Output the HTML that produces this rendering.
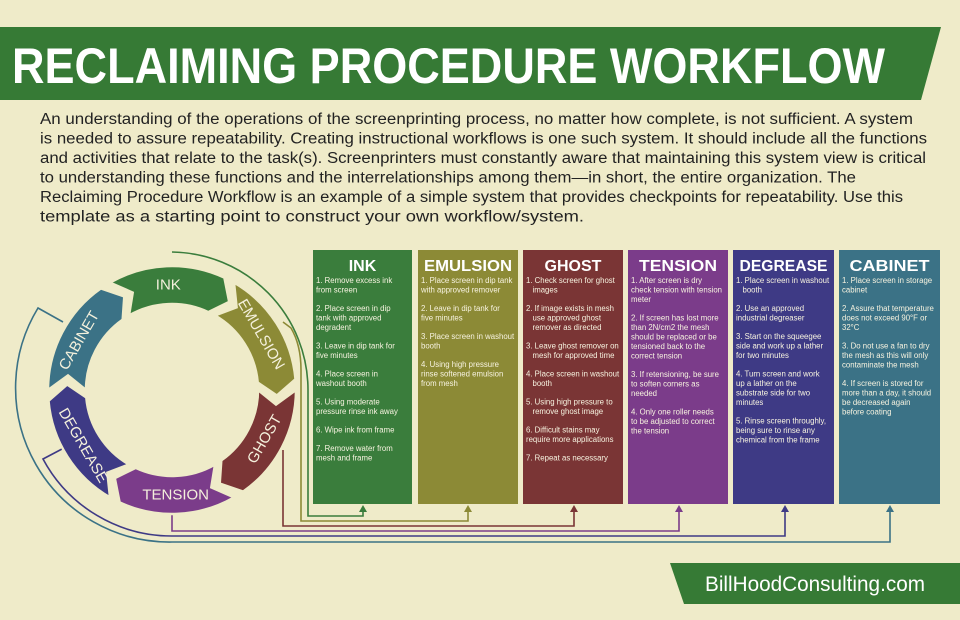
<!DOCTYPE html>
<html><head><meta charset="utf-8">
<style>
html,body{margin:0;padding:0;background:#efebc9;}
svg{display:block;font-family:"Liberation Sans",sans-serif;}
</style></head><body>
<svg id="s" width="960" height="620" viewBox="0 0 960 620" xmlns="http://www.w3.org/2000/svg">
<rect width="960" height="620" fill="#efebc9"/>
<polygon points="0,27 941,27 921,100 0,100" fill="#367a35"/>
<text x="12" y="83" font-size="50" font-weight="bold" fill="#fff" textLength="873" lengthAdjust="spacingAndGlyphs">RECLAIMING PROCEDURE WORKFLOW</text>
<g font-size="15.5" fill="#222">
<text x="40" y="124" textLength="873" lengthAdjust="spacingAndGlyphs">An understanding of the operations of the screenprinting process, no matter how complete, is not sufficient. A system</text>
<text x="40" y="143.5" textLength="887" lengthAdjust="spacingAndGlyphs">is needed to assure repeatability. Creating instructional workflows is one such system. It should include all the functions</text>
<text x="40" y="163" textLength="886" lengthAdjust="spacingAndGlyphs">and activities that relate to the task(s). Screenprinters must constantly aware that maintaining this system view is critical</text>
<text x="40" y="182.5" textLength="816" lengthAdjust="spacingAndGlyphs">to understanding these functions and the interrelationships among them—in short, the entire organization. The</text>
<text x="40" y="202" textLength="863" lengthAdjust="spacingAndGlyphs">Reclaiming Procedure Workflow is an example of a simple system that provides checkpoints for repeatability. Use this</text>
<text x="40" y="221.5" textLength="544" lengthAdjust="spacingAndGlyphs">template as a starting point to construct your own workflow/system.</text>
</g>
<g fill="none" stroke-width="1.6">
<path d="M172,252 A138,138 0 0 1 308,390 L308,516 L363,516 L363,509" stroke="#3a7d3c"/>
<path d="M283,322 L291,328 Q301,345 301,370 L301,521 L468,521 L468,509" stroke="#8c8a36"/>
<path d="M283,450 L283,526 L574,526 L574,509" stroke="#7a3535"/>
<path d="M172,512 L172,531 L679,531 L679,509" stroke="#7b3c8a"/>
<path d="M62,449 L43,459 A146,146 0 0 0 172,536 L785,536 L785,509" stroke="#3e3a85"/>
<path d="M63,322 L38,308 A154,154 0 0 0 172,542 L890,542 L890,509" stroke="#3b7286"/>
</g>
<g>
<polygon points="363,505 359,512 367,512" fill="#3a7d3c"/>
<polygon points="468,505 464,512 472,512" fill="#8c8a36"/>
<polygon points="574,505 570,512 578,512" fill="#7a3535"/>
<polygon points="679,505 675,512 683,512" fill="#7b3c8a"/>
<polygon points="785,505 781,512 789,512" fill="#3e3a85"/>
<polygon points="890,505 886,512 894,512" fill="#3b7286"/>
</g>
<g id="ring"></g>
<rect x="313" y="250" width="99" height="254" fill="#3a7d3c"/>
<rect x="418" y="250" width="100" height="254" fill="#8c8a36"/>
<rect x="523" y="250" width="100" height="254" fill="#7a3535"/>
<rect x="628" y="250" width="100" height="254" fill="#7b3c8a"/>
<rect x="733" y="250" width="101" height="254" fill="#3e3a85"/>
<rect x="839" y="250" width="101" height="254" fill="#3b7286"/>
<g font-size="16" font-weight="bold" fill="#fff" text-anchor="middle">
<text x="362.5" y="271">INK</text>
<text x="468" y="271" textLength="88" lengthAdjust="spacingAndGlyphs">EMULSION</text>
<text x="573" y="271">GHOST</text>
<text x="678" y="271" textLength="78" lengthAdjust="spacingAndGlyphs">TENSION</text>
<text x="783.5" y="271" textLength="88" lengthAdjust="spacingAndGlyphs">DEGREASE</text>
<text x="889.5" y="271" textLength="80" lengthAdjust="spacingAndGlyphs">CABINET</text>
</g>
<g font-size="7.8" fill="#f7f3e0" id="cols"></g>
<polygon points="670,563 960,563 960,604 684,604" fill="#367a35"/>
<text x="815" y="591" font-size="21" fill="#fff" text-anchor="middle" textLength="220" lengthAdjust="spacingAndGlyphs">BillHoodConsulting.com</text>
</svg>
<script>
(function(){
var NS="http://www.w3.org/2000/svg";
var cx=172,cy=390,ro=124,ri=86,rm=105;
function P(r,a){a=a*Math.PI/180;return (cx+r*Math.cos(a)).toFixed(1)+","+(cy+r*Math.sin(a)).toFixed(1);}
var segs=[["INK",-90,"#3a7d3c"],["EMULSION",-30,"#8c8a36"],["GHOST",30,"#7a3535"],["TENSION",90,"#7b3c8a"],["DEGREASE",150,"#3e3a85"],["CABINET",210,"#3b7286"]];
var g=document.getElementById("ring");
segs.forEach(function(s){
 var c=s[1],a0=c-30,a1=c+25;
 var d="M"+P(ro,a0)+" A"+ro+","+ro+" 0 0 1 "+P(ro,a1)+" L"+P(rm,a1+8)+" L"+P(ri,a1)+" A"+ri+","+ri+" 0 0 0 "+P(ri,a0)+" L"+P(rm,a0+8)+" Z";
 var p=document.createElementNS(NS,"path");p.setAttribute("d",d);p.setAttribute("fill",s[2]);p.setAttribute("stroke","#efebc9");p.setAttribute("stroke-width","2.5");p.setAttribute("stroke-linejoin","miter");g.appendChild(p);
 var ang=c;var rot=(ang>0&&ang<180)?ang-90:ang+90;
 var t=document.createElementNS(NS,"text");var pt=P(rm,c-2).split(",");
 t.setAttribute("x",pt[0]);t.setAttribute("y",pt[1]);t.setAttribute("fill","#f4f0dc");t.setAttribute("font-size","15");
 t.setAttribute("text-anchor","middle");t.setAttribute("dominant-baseline","central");
 t.setAttribute("transform","rotate("+rot+" "+pt[0]+" "+pt[1]+")");t.textContent=s[0];g.appendChild(t);
});
var cols=[
[316,[["1. Remove excess ink","from screen"],["2. Place screen in dip","tank with approved","degradent"],["3. Leave in dip tank for","five minutes"],["4. Place screen in","washout booth"],["5. Using moderate","pressure rinse ink away"],["6. Wipe ink from frame"],["7. Remove water from","mesh and frame"]]],
[421,[["1. Place screen in dip tank","with approved remover"],["2. Leave in dip tank for","five minutes"],["3. Place screen in washout","booth"],["4. Using high pressure","rinse softened emulsion","from mesh"]]],
[526,[["1. Check screen for ghost","   images"],["2. If image exists in mesh","   use approved ghost","   remover as directed"],["3. Leave ghost remover on","   mesh for approved time"],["4. Place screen in washout","   booth"],["5. Using high pressure to","   remove ghost image"],["6. Difficult stains may","require more applications"],["7. Repeat as necessary"]]],
[631,[["1. After screen is dry","check tension with tension","meter"],["2. If screen has lost more","than 2N/cm2 the mesh","should be replaced or be","tensioned back to the","correct tension"],["3. If retensioning, be sure","to soften corners as","needed"],["4. Only one roller needs","to be adjusted to correct","the tension"]]],
[736,[["1. Place screen in washout","   booth"],["2. Use an approved","industrial degreaser"],["3. Start on the squeegee","side and work up a lather","for two minutes"],["4. Turn screen and work","up a lather on the","substrate side for two","minutes"],["5. Rinse screen throughly,","being sure to rinse any","chemical from the frame"]]],
[842,[["1. Place screen in storage","cabinet"],["2. Assure that temperature","does not exceed 90°F or","32°C"],["3. Do not use a fan to dry","the mesh as this will only","contaminate the mesh"],["4. If screen is stored for","more than a day, it should","be decreased again","before coating"]]]];
var cg=document.getElementById("cols");
cols.forEach(function(c){
 var y=283;
 c[1].forEach(function(item){
  item.forEach(function(line){
   var t=document.createElementNS(NS,"text");t.setAttribute("x",c[0]);t.setAttribute("y",y);
   t.style.whiteSpace="pre";t.textContent=line;
   cg.appendChild(t);
   var w=t.getComputedTextLength();if(w>94){t.setAttribute("textLength",94);t.setAttribute("lengthAdjust","spacingAndGlyphs");}
   y+=9.5;
  });
  y+=9;
 });
});
})();
</script>
</body></html>
